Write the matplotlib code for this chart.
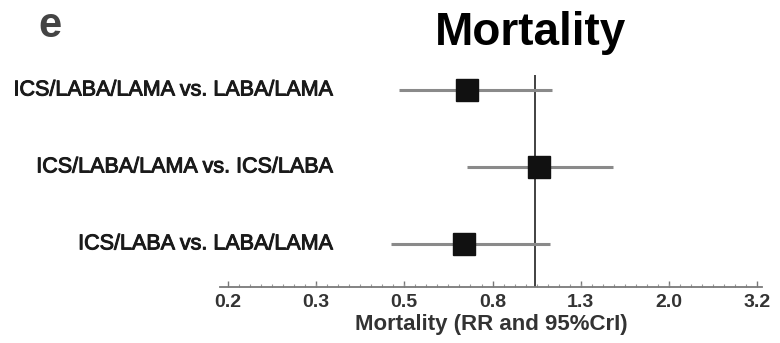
import matplotlib
matplotlib.use("Agg")
import matplotlib.pyplot as plt
import matplotlib.patheffects as pe
from matplotlib.transforms import blended_transform_factory
from matplotlib.ticker import FixedLocator, NullFormatter

# Network meta-analysis results: relative risk of mortality with 95% CrI
comparisons = [
    "ICS/LABA/LAMA vs. LABA/LAMA",
    "ICS/LABA/LAMA vs. ICS/LABA",
    "ICS/LABA vs. LABA/LAMA",
]
rr = [0.70, 1.02, 0.69]
lower = [0.49, 0.70, 0.47]
upper = [1.09, 1.50, 1.08]

tick_values = [0.2, 0.317, 0.504, 0.8, 1.27, 2.016, 3.2]
tick_labels = ["0.2", "0.3", "0.5", "0.8", "1.3", "2.0", "3.2"]

plt.rcParams["font.family"] = ["Liberation Sans", "DejaVu Sans"]

W, H = 780, 343
fig = plt.figure(figsize=(W / 100, H / 100), dpi=100)
fig.patch.set_facecolor("white")

# axes placed in pixel terms: x from 220 to 762, y from 60 to 287
ax = fig.add_axes([220 / W, 1 - 287 / H, (762 - 220) / W, (287 - 60) / H])
ax.set_xscale("log")
ax.set_xlim(0.192, 3.28)
ax.set_ylim(0.44, 3.39)

ypos = [3, 2, 1]

# line of no effect
ax.vlines(1.0, 0.44, 3.2, color="#333333", linewidth=1.3, zorder=1)

for y, est, lo, hi in zip(ypos, rr, lower, upper):
    ax.plot([lo, hi], [y, y], color="#8a8a8a", linewidth=2.2,
            solid_capstyle="butt", zorder=2)
    ax.plot([est], [y], marker="s", markersize=16, color="#111111",
            markeredgecolor="#111111", zorder=3)

for sp in ("left", "top", "right"):
    ax.spines[sp].set_visible(False)
ax.spines["bottom"].set_color("#7a7a7a")
ax.spines["bottom"].set_linewidth(1.3)

ax.set_yticks([])
ax.xaxis.set_major_locator(FixedLocator(tick_values))
ax.set_xticklabels(tick_labels)
minor = [0.2 * 16 ** (k / 48) for k in range(49)]
ax.xaxis.set_minor_locator(FixedLocator(minor))
ax.xaxis.set_minor_formatter(NullFormatter())
ax.tick_params(axis="x", which="major", direction="in", length=4,
               width=1, color="#777777", labelsize=14, pad=5,
               labelcolor="#333333")
ax.tick_params(axis="x", which="minor", direction="in", length=2,
               width=0.8, color="#999999")
for lab in ax.get_xticklabels():
    lab.set_fontweight("bold")

ax.set_xlabel("Mortality (RR and 95%CrI)", fontsize=16, fontweight="bold",
              color="#333333", labelpad=2)

# row labels, right-aligned at a fixed figure x
trans = blended_transform_factory(fig.transFigure, ax.transData)
heavy = [pe.withStroke(linewidth=0.7, foreground="#1a1a1a")]
for y, name in zip(ypos, comparisons):
    ax.text(333 / W, y, name, transform=trans, ha="right", va="center",
            fontsize=15.5, color="#1a1a1a", clip_on=False,
            path_effects=heavy)

fig.text(531 / W, 1 - 45 / H, "Mortality", ha="center", va="baseline",
         fontsize=33, fontweight="bold", color="black")
fig.text(50 / W, 1 - 37 / H, "e", ha="center", va="baseline",
         fontsize=30, fontweight="bold", color="#444444")

fig.savefig("out.png", dpi=100, facecolor="white")
